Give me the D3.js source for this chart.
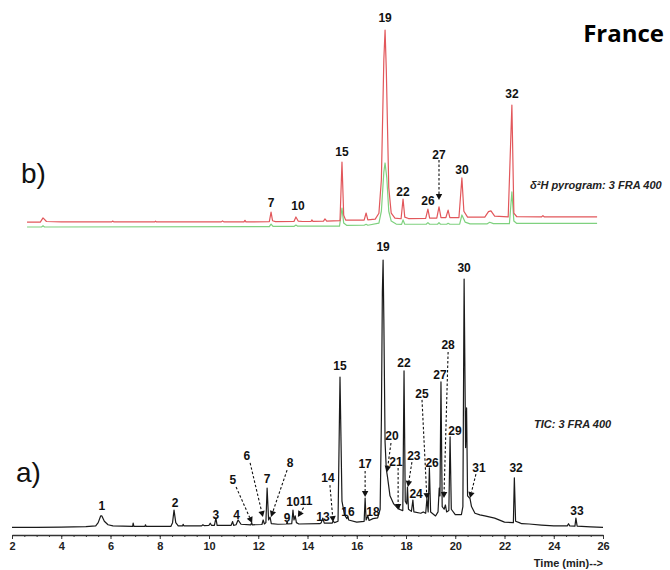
<!DOCTYPE html>
<html>
<head>
<meta charset="utf-8">
<script src="https://cdn.jsdelivr.net/npm/d3@7"></script>
<style>
  body { margin: 0; background: #fff; }
  svg { display: block; }
  text { font-family: "Liberation Sans", Arial, sans-serif; }
</style>
</head>
<body>
<svg></svg>
<script>

// time axis ticks (min)
var timeTicks = [2, 4, 6, 8, 10, 12, 14, 16, 18, 20, 22, 24, 26];

// a) TIC trace, [time, relative abundance]
var ticTrace = [
  [2.0, 0.2], [3.0, 0.2], [4.0, 0.3], [5.0, 0.5], [5.4, 0.8], [5.5, 2], [5.6, 4.5], [5.65, 4.5], [5.75, 2.5],
  [5.9, 1.2], [6.1, 0.8], [6.9, 0.6], [6.92, 1.8], [6.95, 0.6], [7.4, 0.6], [7.42, 1.2], [7.45, 0.6],
  [8.45, 0.6], [8.52, 2], [8.58, 6.7], [8.65, 2], [8.75, 0.8], [8.93, 0.8], [8.95, 1.4], [8.98, 0.8],
  [9.7, 0.8], [9.75, 1.2], [9.8, 0.9], [10.0, 1.0], [10.05, 1.8], [10.1, 1.0], [10.22, 1.0], [10.28, 3.7],
  [10.33, 1.0], [10.9, 1.0], [10.96, 2.4], [11.0, 1.0], [11.1, 1.2], [11.18, 3.0], [11.3, 1.4], [11.7, 1.2],
  [11.73, 2.0], [11.76, 1.2], [12.15, 1.3], [12.2, 3.0], [12.25, 1.5], [12.31, 2], [12.36, 14.9], [12.42, 3],
  [12.48, 4.1], [12.53, 1.6], [12.8, 1.4], [13.15, 1.5], [13.17, 2.5], [13.2, 1.5], [13.36, 1.6], [13.41, 6.7],
  [13.45, 3], [13.5, 4.5], [13.55, 2], [13.65, 1.5], [14.5, 1.6], [14.56, 2.0], [14.62, 3.7], [14.68, 1.8],
  [15.0, 1.8], [15.04, 2.6], [15.1, 2.0], [15.24, 2.5], [15.32, 56.3], [15.4, 10], [15.5, 5], [15.6, 3.5],
  [15.64, 4.5], [15.67, 3], [16.0, 2.2], [16.3, 2.5], [16.34, 11.2], [16.38, 3], [16.45, 4.5], [16.5, 2.8],
  [16.66, 3.5], [16.85, 3.8], [16.95, 7], [17.0, 40], [17.04, 88], [17.07, 100], [17.1, 78], [17.15, 32],
  [17.2, 22], [17.25, 19], [17.35, 12], [17.5, 9], [17.65, 7.5], [17.68, 8.8], [17.72, 7], [17.87, 6.5],
  [17.92, 58.6], [17.97, 10],
  [18.03, 9], [18.06, 15.3], [18.1, 7], [18.22, 6.2], [18.28, 10.4], [18.32, 6], [18.6, 5.5], [18.7, 6],
  [18.8, 5.5], [18.85, 11], [18.9, 6], [18.95, 22.4], [19.0, 6], [19.2, 4.5], [19.3, 6], [19.35, 14.9],
  [19.38, 12], [19.42, 54.5], [19.47, 8], [19.55, 7], [19.6, 8.6], [19.65, 6], [19.74, 6.5], [19.79, 34.0],
  [19.84, 7], [20.0, 5], [20.25, 5], [20.31, 8], [20.36, 92.9], [20.42, 30], [20.46, 44.8], [20.5, 12],
  [20.6, 11], [20.66, 8], [20.8, 5.5], [21.0, 4.9], [21.2, 4.5], [21.6, 3.7], [22.0, 2.2], [22.36, 2.0],
  [22.4, 18.7], [22.45, 2.5], [22.6, 2], [22.7, 1.6], [23.0, 1.5], [23.5, 1.1], [24.0, 0.8], [24.55, 0.8],
  [24.6, 1.6], [24.65, 0.8], [24.86, 0.7], [24.9, 3.7], [24.95, 0.7], [25.5, 0.4], [26.0, 0.2]
];

// b) pyrogram traces, [time, signal]
var redTrace = [
  [2.61, 2.5], [3.15, 2.5], [3.26, 4.6], [3.4, 2.8], [4.0, 2.6], [6.05, 2.6], [6.09, 3.0], [6.13, 2.6],
  [7.8, 2.6], [7.83, 3.0], [7.86, 2.6], [10.5, 2.6], [10.55, 3.1], [10.6, 2.6], [11.42, 2.6], [11.46, 3.4],
  [11.5, 2.6], [12.45, 2.7], [12.52, 7.6], [12.58, 3.2], [12.7, 2.7], [13.45, 2.8], [13.53, 5.1], [13.62, 3.0],
  [13.8, 2.8], [14.15, 2.9], [14.18, 3.6], [14.22, 2.9], [14.65, 3.0], [14.71, 4.1], [14.78, 3.0], [15.32, 3.2],
  [15.4, 33.0], [15.47, 6], [15.55, 3.5], [16.3, 3.5], [16.38, 7.1], [16.45, 3.6], [16.75, 4], [16.9, 7],
  [17.0, 24], [17.1, 85], [17.15, 100], [17.2, 80], [17.3, 20], [17.4, 7], [17.55, 4.5], [17.8, 4.2],
  [17.88, 14.2], [17.95, 5], [18.1, 4.3], [18.8, 4.4], [18.89, 9.1], [18.96, 4.5], [19.25, 4.5], [19.34, 10.2],
  [19.42, 4.8], [19.62, 4.8], [19.71, 8.6], [19.78, 4.8], [20.15, 4.8], [20.27, 24.9], [20.35, 8], [20.5, 5],
  [21.2, 5], [21.35, 7.8], [21.45, 8.2], [21.6, 5.5], [22.15, 5.1], [22.3, 61.9], [22.38, 7], [22.5, 5.2],
  [23.5, 5.1], [23.56, 5.8], [23.62, 5.1], [25.76, 5.1]
];

var greenTrace = [
  [2.61, 0], [3.2, 0], [3.26, 0.6], [3.32, 0], [12.45, 0.2], [12.52, 1.5], [12.6, 0.3], [13.45, 0.3],
  [13.53, 1.0], [13.6, 0.4], [15.3, 0.4], [15.4, 9.6], [15.47, 2], [15.6, 0.8], [16.3, 0.9], [16.38, 1.4],
  [16.45, 0.9], [16.9, 2], [17.0, 8], [17.1, 28], [17.15, 32.5], [17.22, 25], [17.3, 8], [17.4, 3],
  [17.6, 1.5], [17.82, 1.3], [17.88, 3.6], [17.95, 1.4], [18.82, 1.4], [18.89, 2.2], [18.96, 1.4],
  [19.28, 1.4], [19.34, 2.2], [19.4, 1.4], [19.65, 1.4], [19.71, 1.9], [19.78, 1.4], [20.18, 1.5],
  [20.27, 6.1], [20.4, 2.5], [20.6, 1.6], [21.3, 1.6], [21.4, 2.4], [21.55, 1.7], [22.2, 1.7],
  [22.3, 17.8], [22.38, 3], [22.5, 1.8], [25.76, 1.8]
];

// peak labels: [peak no., time, signal]
var ticLabels = [
  ["1", 5.65, 8.2], ["2", 8.62, 9.3], ["3", 10.28, 4.9], ["4", 11.12, 4.9], ["5", 10.97, 17.9],
  ["6", 11.54, 26.9], ["7", 12.36, 18.3], ["8", 13.29, 24.3], ["9", 13.17, 3.7], ["10", 13.41, 9.7],
  ["11", 13.94, 10.1], ["13", 14.63, 4.1], ["14", 14.83, 18.7], ["15", 15.32, 60.4], ["16", 15.64, 6.0],
  ["17", 16.34, 23.9], ["18", 16.66, 6.0], ["19", 17.07, 104.9], ["20", 17.43, 34.3], ["21", 17.59, 24.6],
  ["22", 17.92, 61.6], ["23", 18.32, 26.9], ["24", 18.41, 12.7], ["25", 18.65, 50.0], ["26", 19.06, 24.3],
  ["27", 19.38, 57.1], ["28", 19.71, 68.3], ["29", 19.99, 36.2], ["30", 20.36, 97.0], ["31", 20.96, 22.4],
  ["32", 22.47, 22.4], ["33", 24.94, 6.3]
];

var pyroLabels = [
  ["7", 12.52, 12.2], ["10", 13.61, 10.7], ["15", 15.40, 38.1], ["19", 17.15, 106.1], ["22", 17.88, 17.8],
  ["26", 18.89, 13.2], ["27", 19.34, 36.5], ["30", 20.27, 28.9], ["32", 22.30, 67.5]
];

// dashed pointers: [from time, from signal, to time, to signal]
var ticArrows = [
  [11.10, 15.3, 11.75, 1.9], [11.67, 24.3, 12.19, 4.1], [13.17, 21.6, 12.52, 4.1], [13.84, 7.6, 13.61, 4.1],
  [14.91, 16.0, 15.04, 2.2], [16.34, 21.3, 16.34, 11.6], [17.39, 31.7, 17.23, 20.9], [17.68, 22.4, 17.68, 6.7],
  [18.24, 24.6, 18.08, 15.3], [18.65, 47.8, 18.85, 10.8], [19.71, 65.7, 19.54, 11.2], [20.84, 20.1, 20.60, 11.2]
];
var pyroArrows = [
  [19.34, 34.0, 19.34, 13.7]
];

var width = 670, height = 570;

var svg = d3.select('svg')
    .attr('width', width)
    .attr('height', height);

svg.append('rect')
    .attr('width', width)
    .attr('height', height)
    .attr('fill', 'white');

var x = d3.scaleLinear().domain([2, 26]).range([12, 603]);
var yTic = d3.scaleLinear().domain([0, 100]).range([528, 260]);
var yPyro = d3.scaleLinear().domain([0, 100]).range([227, 30]);

function drawLine(data, yScale, color, w) {
    svg.append('path')
        .datum(data)
        .attr('fill', 'none')
        .attr('stroke', color)
        .attr('stroke-width', w)
        .attr('stroke-linejoin', 'round')
        .attr('d', d3.line().x(function(d) { return x(d[0]); }).y(function(d) { return yScale(d[1]); }));
}

function drawLabels(data, yScale) {
    svg.append('g').selectAll('text')
        .data(data)
        .enter().append('text')
        .attr('x', function(d) { return x(d[1]); })
        .attr('y', function(d) { return yScale(d[2]); })
        .attr('dy', '0.35em')
        .attr('text-anchor', 'middle')
        .attr('font-size', 12)
        .attr('font-weight', 'bold')
        .attr('fill', '#111')
        .text(function(d) { return d[0]; });
}

function drawArrows(data, yScale) {
    data.forEach(function(a) {
        var x1 = x(a[0]), y1 = yScale(a[1]), x2 = x(a[2]), y2 = yScale(a[3]);
        var ang = Math.atan2(y2 - y1, x2 - x1);
        var len = 6, hw = 3.2;
        var bx = x2 - len * Math.cos(ang), by = y2 - len * Math.sin(ang);
        svg.append('line')
            .attr('x1', x1).attr('y1', y1)
            .attr('x2', bx).attr('y2', by)
            .attr('stroke', '#111')
            .attr('stroke-width', 1.1)
            .attr('stroke-dasharray', '2.5,2');
        svg.append('polygon')
            .attr('points', [
                [x2, y2],
                [bx + hw * Math.sin(ang), by - hw * Math.cos(ang)],
                [bx - hw * Math.sin(ang), by + hw * Math.cos(ang)]
            ].join(' '))
            .attr('fill', '#111');
    });
}

// b) pyrogram
drawLine(greenTrace, yPyro, '#7fd17f', 1.2);
drawLine(redTrace, yPyro, '#e2575b', 1.2);
drawLabels(pyroLabels, yPyro);
drawArrows(pyroArrows, yPyro);

// a) TIC
drawLine(ticTrace, yTic, '#1a1a1a', 1.2);
drawLabels(ticLabels, yTic);
drawArrows(ticArrows, yTic);

// time axis
var axisG = svg.append('g')
    .attr('transform', 'translate(0,535)');

axisG.call(d3.axisBottom(x).tickValues(d3.range(2, 26.01, 0.5)).tickSize(2).tickFormat(''))
    .call(function(g) { g.select('.domain').remove(); });

var major = svg.append('g')
    .attr('transform', 'translate(0,535)')
    .call(d3.axisBottom(x).tickValues(timeTicks).tickSize(4).tickSizeOuter(0).tickFormat(d3.format('d')));

svg.selectAll('.tick line').attr('stroke', '#333');
major.select('.domain').attr('stroke', '#333').attr('stroke-width', 1.5);
major.selectAll('text')
    .attr('font-size', 11)
    .attr('font-weight', 'bold')
    .attr('fill', '#222')
    .style('font-family', '"Liberation Sans Narrow", "Liberation Sans", Arial, sans-serif');

svg.append('text')
    .attr('x', 603).attr('y', 567)
    .attr('text-anchor', 'end')
    .attr('font-size', 11)
    .attr('font-weight', 'bold')
    .attr('fill', '#222')
    .text('Time (min)-->');

// panel letters and titles
svg.append('text').attr('x', 21).attr('y', 183).attr('font-size', 28).attr('fill', '#111').text('b)');
svg.append('text').attr('x', 16).attr('y', 482).attr('font-size', 28).attr('fill', '#111').text('a)');

svg.append('text')
    .attr('x', 664).attr('y', 42)
    .attr('text-anchor', 'end')
    .attr('font-size', 24)
    .attr('font-weight', 'bold')
    .style('font-family', '"Open Sans", "Liberation Sans", sans-serif')
    .text('France');

svg.append('text')
    .attr('x', 530).attr('y', 189)
    .attr('font-size', 11)
    .attr('font-weight', 'bold')
    .attr('font-style', 'italic')
    .attr('fill', '#222')
    .text('δ²H pyrogram: 3 FRA 400');

svg.append('text')
    .attr('x', 534).attr('y', 428)
    .attr('font-size', 11)
    .attr('font-weight', 'bold')
    .attr('font-style', 'italic')
    .attr('fill', '#222')
    .text('TIC: 3 FRA 400');

</script>
</body>
</html>
